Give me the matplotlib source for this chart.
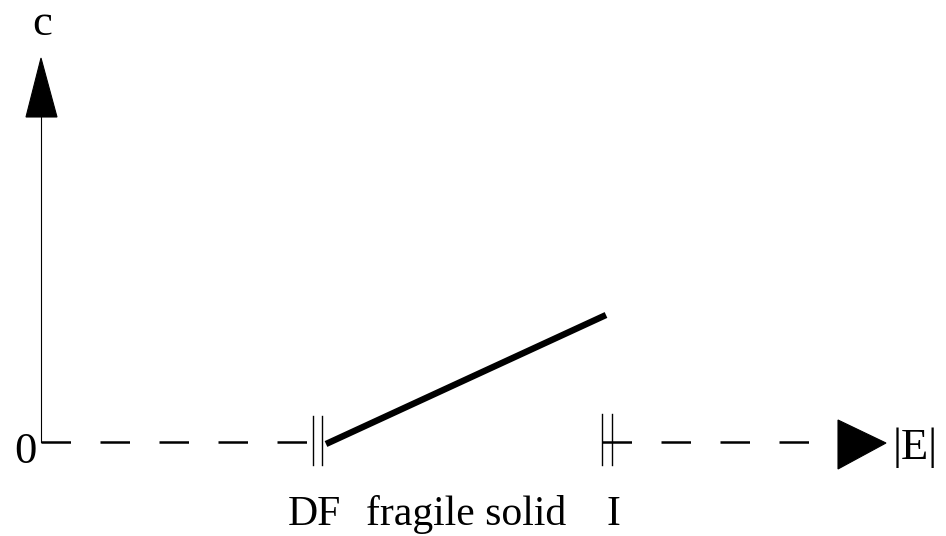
import matplotlib.pyplot as plt
from matplotlib.patches import Polygon

# diagram coordinates (pixel-like units, y grows downward)
origin = (41, 442)
c_axis_top = 117
c_arrow = [(26, 117), (57, 117), (41, 58)]
e_arrow = [(838, 420), (838, 469), (886, 443)]

left_dash_x = [41, 309]
right_dash_x = [602, 838]

df_bars_x = [313, 322]
df_bars_y = [416, 465]
i_bars_x = [602, 612]
i_bars_y = [414, 465]

fragile_x = [326, 606]
fragile_y = [444, 315]

labels = ["DF", "fragile solid", "I"]
labels_x = [314, 466, 613]
labels_base = 525

plt.rcParams['font.family'] = ['Liberation Serif', 'DejaVu Serif']
fs = 32

fig = plt.figure(figsize=(9.46, 5.36), dpi=100)
ax = fig.add_axes([0, 0, 1, 1])
ax.set_xlim(0, 946)
ax.set_ylim(536, 0)
ax.axis('off')

# c axis
ax.plot([origin[0], origin[0]], [origin[1], c_axis_top], color='black', lw=0.8)
ax.add_patch(Polygon(c_arrow, closed=True, facecolor='black', edgecolor='black', lw=0.8))

# |E| axis, dashed
dash = dict(color='black', lw=1.8, dashes=(11.8, 11.8), solid_capstyle='butt',
            dash_capstyle='butt')
ax.plot(left_dash_x, [origin[1]] * 2, **dash)
ax.plot(right_dash_x, [origin[1]] * 2, **dash)
ax.add_patch(Polygon(e_arrow, closed=True, facecolor='black', edgecolor='black', lw=0.8))

# double bars at DF and I
for bx in df_bars_x:
    ax.plot([bx, bx], df_bars_y, color='black', lw=1.0)
for bx in i_bars_x:
    ax.plot([bx, bx], i_bars_y, color='black', lw=1.0)

# fragile solid branch
ax.plot(fragile_x, fragile_y, color='black', lw=4.6, solid_capstyle='butt')

# text
ax.text(42, 24, "c", fontsize=fs, ha='center', va='center')
ax.text(25, 452, "0", fontsize=fs, ha='center', va='center')
ax.text(893, 448, "|E|", fontsize=fs, ha='left', va='center')
for lab, lx in zip(labels, labels_x):
    ax.text(lx, labels_base, lab, fontsize=30, ha='center', va='baseline')

fig.savefig("out.png", dpi=100)
